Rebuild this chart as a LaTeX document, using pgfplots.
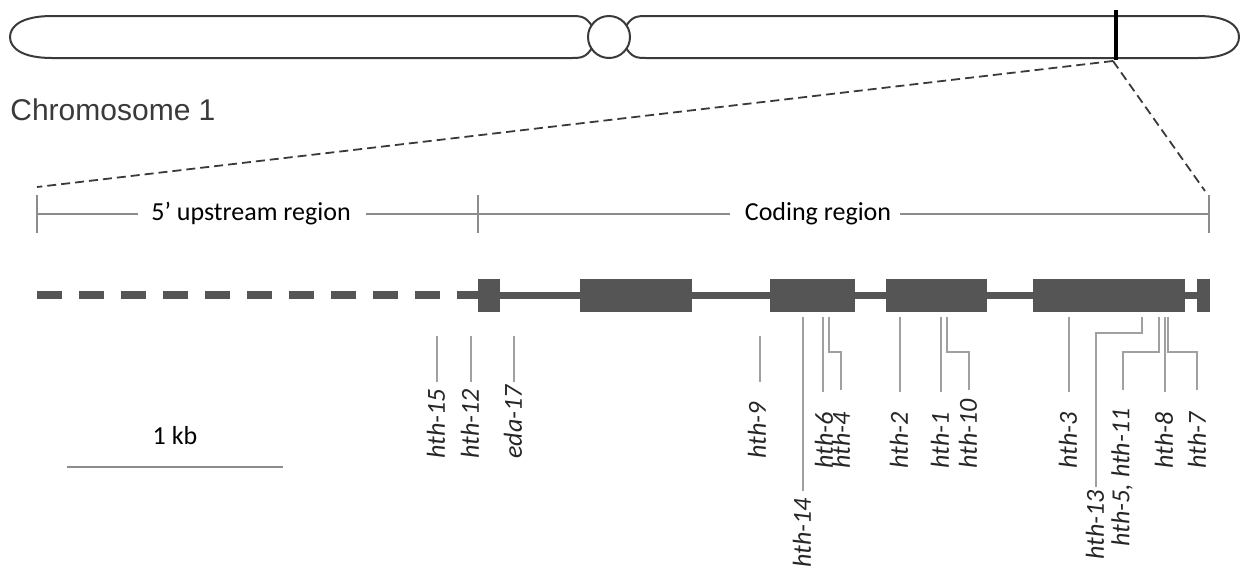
\documentclass[border=0pt]{standalone}
\usepackage{pgfplots}
\pgfplotsset{compat=1.18}
\usepackage{fontspec}
\setmainfont{Carlito}
\newfontfamily\arialf{Liberation Sans}
\definecolor{gene}{HTML}{555555}
\definecolor{mut}{HTML}{A0A0A0}
\definecolor{reg}{HTML}{8C8C8C}
\definecolor{chr}{HTML}{3A3A3A}
\begin{document}
\begin{tikzpicture}
\begin{axis}[scale only axis, width=621.5pt, height=284.5pt,
  xmin=0, xmax=1243, ymin=0, ymax=569, y dir=reverse, hide axis, clip=false]
\path (axis cs:0,0) (axis cs:1243,569);
% chromosome
\draw[chr, line width=1pt] (axis cs:592,26) .. controls (axis cs:586,17) and (axis cs:582,16) .. (axis cs:572,16)
  -- (axis cs:52,16) .. controls (axis cs:22,16) and (axis cs:10,26) .. (axis cs:10,37)
  .. controls (axis cs:10,48) and (axis cs:22,58) .. (axis cs:52,58)
  -- (axis cs:572,58) .. controls (axis cs:582,58) and (axis cs:586,57) .. (axis cs:592,48);
\draw[chr, line width=1pt] (axis cs:609,37) circle[radius=10.5pt];
\draw[chr, line width=1pt] (axis cs:626,26) .. controls (axis cs:632,17) and (axis cs:636,16) .. (axis cs:646,16)
  -- (axis cs:1198,16) .. controls (axis cs:1228,16) and (axis cs:1239,26) .. (axis cs:1239,37)
  .. controls (axis cs:1239,48) and (axis cs:1228,58) .. (axis cs:1198,58)
  -- (axis cs:646,58) .. controls (axis cs:636,58) and (axis cs:632,57) .. (axis cs:626,48);
\addplot[black, line width=2pt] coordinates {(1116,10) (1116,60)};
% zoom lines
\addplot[chr, line width=0.9pt, dash pattern=on 4.5pt off 2.5pt] coordinates {(1113,61) (37,187)};
\addplot[chr, line width=0.9pt, dash pattern=on 4.5pt off 2.5pt] coordinates {(1113,61) (1205,191)};
\node[anchor=west, inner sep=0, text=chr, font=\arialf\fontsize{15pt}{17pt}\selectfont] at (axis cs:10,110) {Chromosome 1};
% regions
\addplot[reg, line width=0.7pt] coordinates {(37,214) (138,214)};
\addplot[reg, line width=0.7pt] coordinates {(366,214) (730,214)};
\addplot[reg, line width=0.7pt] coordinates {(900,214) (1209,214)};
\addplot[reg, line width=0.7pt] coordinates {(37,195) (37,233)};
\addplot[reg, line width=0.7pt] coordinates {(478,195) (478,233)};
\addplot[reg, line width=0.7pt] coordinates {(1209,195) (1209,233)};
\node[inner sep=0, font=\fontsize{13pt}{15pt}\selectfont] at (axis cs:251,214) {5’ upstream region};
\node[inner sep=0, font=\fontsize{13pt}{15pt}\selectfont] at (axis cs:818,214) {Coding region};
% gene
\addplot[gene, line width=4pt, dash pattern=on 12.5pt off 8.5pt] coordinates {(37,295) (482,295)};
\addplot[gene, line width=3.5pt] coordinates {(478,295) (1208,295)};
\addplot[fill=gene, draw=none] coordinates {(478,279) (500,279) (500,312) (478,312)} -- cycle;
\addplot[fill=gene, draw=none] coordinates {(580,279) (692,279) (692,312) (580,312)} -- cycle;
\addplot[fill=gene, draw=none] coordinates {(770,279) (855,279) (855,312) (770,312)} -- cycle;
\addplot[fill=gene, draw=none] coordinates {(886,279) (987,279) (987,312) (886,312)} -- cycle;
\addplot[fill=gene, draw=none] coordinates {(1033,279) (1185,279) (1185,312) (1033,312)} -- cycle;
\addplot[fill=gene, draw=none] coordinates {(1197,279) (1210,279) (1210,312) (1197,312)} -- cycle;
% scale bar
\addplot[reg, line width=0.8pt] coordinates {(67,467) (283,467)};
\node[inner sep=0, font=\fontsize{13pt}{15pt}\selectfont] at (axis cs:175,436) {1 kb};
% mutations
\pgfplotsset{mutl/.style={mut, line width=0.8pt}}
\addplot[mutl] coordinates {(437,336) (437,382)};
\addplot[mutl] coordinates {(471,336) (471,382)};
\addplot[mutl] coordinates {(514,336) (514,382)};
\addplot[mutl] coordinates {(760,336) (760,382)};
\addplot[mutl] coordinates {(803,317) (803,491)};
\addplot[mutl] coordinates {(823,317) (823,392)};
\addplot[mutl] coordinates {(829,317) (829,352) (841,352) (841,390)};
\addplot[mutl] coordinates {(900,317) (900,392)};
\addplot[mutl] coordinates {(941,317) (941,392)};
\addplot[mutl] coordinates {(947,317) (947,352) (969,352) (969,390)};
\addplot[mutl] coordinates {(1069,317) (1069,392)};
\addplot[mutl] coordinates {(1142,317) (1142,333) (1096,333) (1096,487)};
\addplot[mutl] coordinates {(1159,317) (1159,352) (1123,352) (1123,390)};
\addplot[mutl] coordinates {(1165,317) (1165,392)};
\addplot[mutl] coordinates {(1168,317) (1168,352) (1197,352) (1197,390)};
\tikzset{lab/.style={rotate=90, anchor=west, inner sep=0, text=black!85, font=\itshape\fontsize{13pt}{15pt}\selectfont}}
\node[lab] at (axis cs:436,459) {hth-15};
\node[lab] at (axis cs:470,459) {hth-12};
\node[lab] at (axis cs:513,459) {eda-17};
\node[lab] at (axis cs:757,459) {hth-9};
\node[lab] at (axis cs:802,568) {hth-14};
\node[lab] at (axis cs:824,469) {hth-6};
\node[lab] at (axis cs:841,469) {hth-4};
\node[lab] at (axis cs:899,469) {hth-2};
\node[lab] at (axis cs:940,469) {hth-1};
\node[lab] at (axis cs:968,469) {hth-10};
\node[lab] at (axis cs:1068,469) {hth-3};
\node[lab] at (axis cs:1095,560) {hth-13};
\node[lab] at (axis cs:1122,547) {hth-5, hth-11};
\node[lab] at (axis cs:1164,469) {hth-8};
\node[lab] at (axis cs:1197,469) {hth-7};
\end{axis}
\end{tikzpicture}
\end{document}
